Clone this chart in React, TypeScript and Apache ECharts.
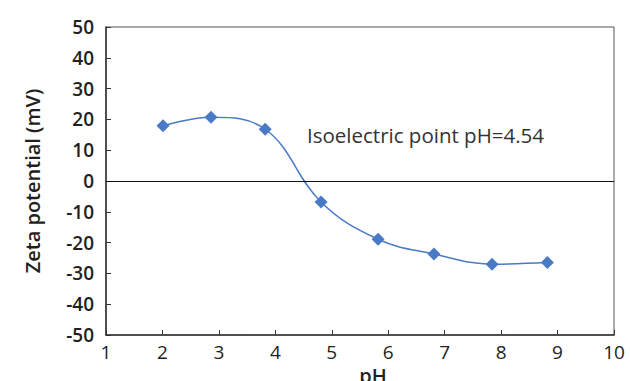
import React, { useEffect, useRef } from "react";
import * as echarts from "echarts";

const phValues = [2.01, 2.86, 3.82, 4.81, 5.82, 6.81, 7.84, 8.82];
const zetaValues = [17.9, 20.7, 16.8, -6.8, -18.9, -23.7, -27.0, -26.5];
const xAxisTitle = "pH";
const yAxisTitle = "Zeta potential (mV)";
const annotation = "Isoelectric point pH=4.54";

export default function App() {
  const ref = useRef<HTMLDivElement>(null);
  useEffect(() => {
    if (!ref.current) return;
    const chart = echarts.init(ref.current, undefined, { renderer: "svg" });
    const font = "'Open Sans', 'Noto Sans', sans-serif";
    const data = phValues.map((x, i) => [x, zetaValues[i]]);
    chart.setOption({
      animation: false,
      grid: {
        left: 106,
        right: 16,
        top: 27,
        bottom: 46,
        containLabel: false,
        outerBoundsMode: "none",
        show: true,
        borderColor: "#555",
        borderWidth: 1,
        backgroundColor: "transparent",
      },
      xAxis: {
        type: "value",
        min: 1,
        max: 10,
        interval: 1,
        name: xAxisTitle,
        nameLocation: "middle",
        nameGap: 27,
        nameTextStyle: {
          fontFamily: font,
          fontSize: 20,
          color: "#231f20",
          fontWeight: 600,
          padding: [0, 0, 0, 26],
        },
        axisLine: { onZero: false, lineStyle: { color: "#333", width: 1.5 } },
        axisTick: { show: true, inside: true, length: 5, lineStyle: { color: "#333" } },
        axisLabel: { fontFamily: font, fontSize: 19, color: "#231f20", margin: 7, fontWeight: 500 },
        splitLine: { show: false },
      },
      yAxis: {
        type: "value",
        min: -50,
        max: 50,
        interval: 10,
        name: yAxisTitle,
        nameLocation: "middle",
        nameGap: 64,
        nameTextStyle: { fontFamily: font, fontSize: 20, color: "#231f20", fontWeight: 600 },
        axisLine: { show: true, lineStyle: { color: "#333", width: 1.5 } },
        axisTick: { show: true, inside: true, length: 5, lineStyle: { color: "#333" } },
        axisLabel: { fontFamily: font, fontSize: 19, color: "#231f20", margin: 12, fontWeight: 600 },
        splitLine: { show: false },
      },
      series: [
        {
          type: "line",
          data,
          smooth: 0.4,
          symbol: "diamond",
          symbolSize: 13,
          lineStyle: { color: "#4a7ac6", width: 1.5 },
          itemStyle: { color: "#4a7ac6" },
          markLine: {
            silent: true,
            symbol: "none",
            label: { show: false },
            lineStyle: { color: "#111", type: "solid", width: 1.2 },
            data: [{ yAxis: 0 }],
          },
        },
      ],
      graphic: [
        {
          type: "text",
          x: 307,
          y: 135,
          style: {
            text: annotation,
            fontFamily: font,
            fontSize: 20.5,
            fill: "#333",
            verticalAlign: "middle",
          },
        },
      ],
    });
    return () => chart.dispose();
  }, []);
  return (
    <div
      ref={ref}
      style={{ width: 630, height: 381, position: "absolute", left: 0, top: 0 }}
    />
  );
}
